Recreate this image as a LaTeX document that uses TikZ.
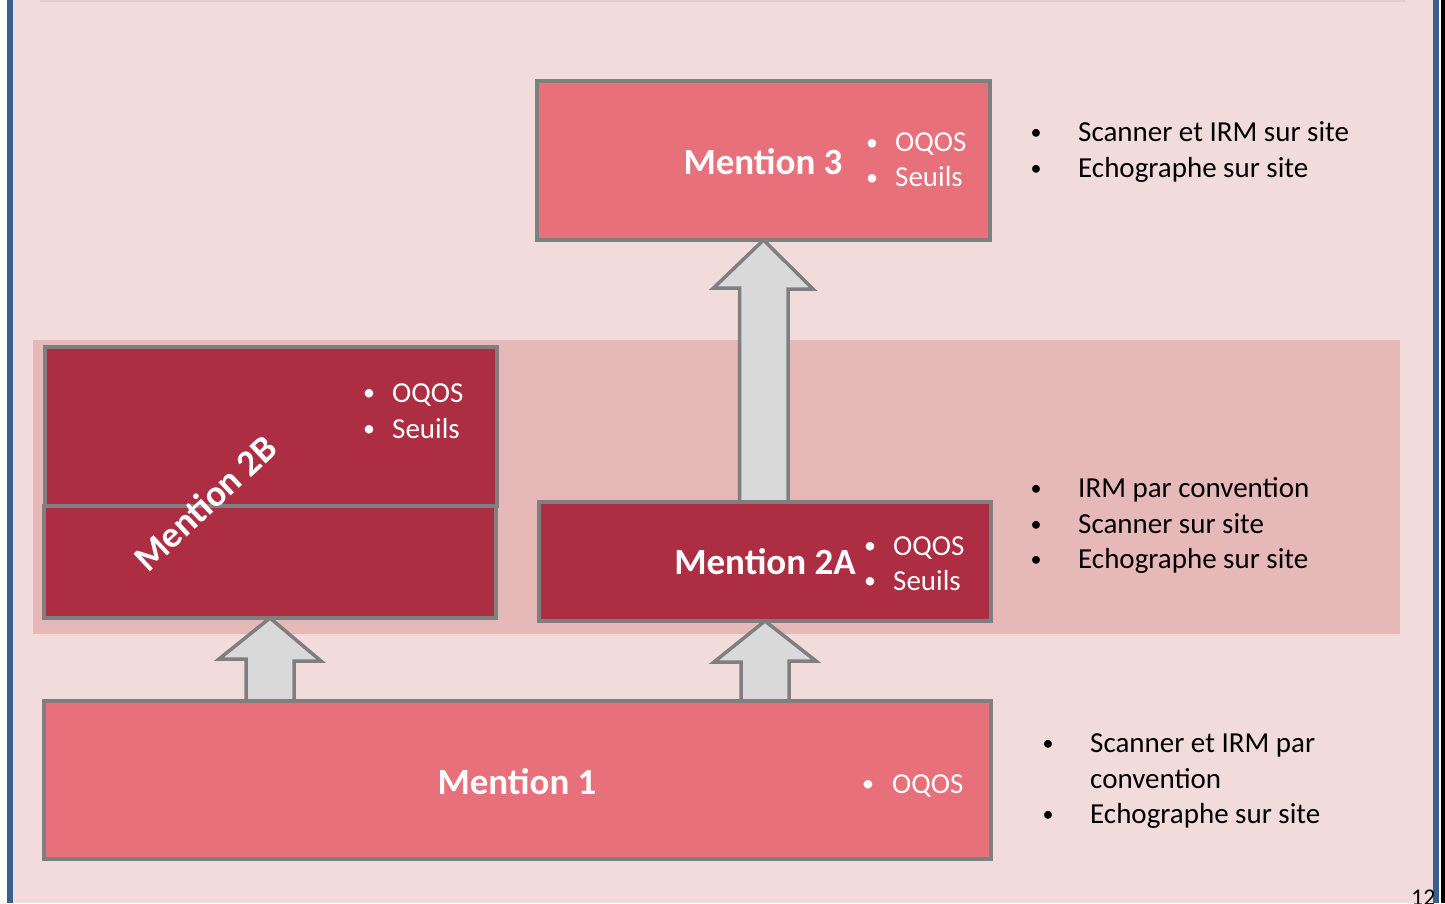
\documentclass[tikz,border=0pt]{standalone}
\usepackage{fontspec}
\setmainfont{Carlito}
\begin{document}
\begin{tikzpicture}[x=1pt,y=-1pt,
  lightbox/.style={draw=boxgray,line width=4pt,fill=lightred,anchor=north west,inner sep=0pt,outer sep=0pt},
  darkbox/.style={draw=boxgray,line width=4pt,fill=darkred,anchor=north west,inner sep=0pt,outer sep=0pt},
  uparrow/.style={draw=boxgray,line width=3.5pt,fill=arrowgray,line join=miter},
  title/.style={font=\fontsize{37}{42}\selectfont\bfseries,text=white,inner sep=0pt},
  intxt/.style={font=\fontsize{29}{34}\selectfont,text=white,anchor=base west,inner sep=0pt},
  indot/.style={font=\fontsize{24}{30}\selectfont,text=white,anchor=base,inner sep=0pt},
  outtxt/.style={font=\fontsize{29}{34}\selectfont,text=black,anchor=base west,inner sep=0pt},
  outdot/.style={font=\fontsize{22}{30}\selectfont,text=black,anchor=base,inner sep=0pt}]
\definecolor{bg}{HTML}{F2DCDB}
\definecolor{band}{HTML}{E6B8B7}
\definecolor{lightred}{HTML}{E7707B}
\definecolor{darkred}{HTML}{AD2D42}
\definecolor{boxgray}{HTML}{7F7F7F}
\definecolor{arrowgray}{HTML}{D9D9D9}
\definecolor{slideblue}{HTML}{3A5F8E}
% frame
\useasboundingbox (0,0) rectangle (1445,903);
\fill[white] (0,0) rectangle (1445,903);
\fill[bg] (13,0) rectangle (1433,903);
\fill[slideblue] (7,0) rectangle (13,903);
\fill[slideblue] (1433,0) rectangle (1439,903);
\fill[black] (1441,0) rectangle (1445,903);
\draw[line width=1.5pt,color=bg!85!gray] (40,0.75) -- (1405,0.75);
% band
\fill[band] (33,340) rectangle (1400,634);
% boxes
\node[lightbox,minimum width=453pt,minimum height=159pt] (m3) at (537,81) {};
\node[darkbox,minimum width=452pt,minimum height=159pt] (m2bt) at (45,347) {};
\node[darkbox,minimum width=452pt,minimum height=112pt] (m2bb) at (44,506) {};
\node[darkbox,minimum width=452pt,minimum height=119pt] (m2a) at (539,502) {};
\node[lightbox,minimum width=947pt,minimum height=158pt] (m1) at (44,701) {};
% arrows
\draw[uparrow] (m3.south) -- ++(-50,48) -- ++(26,0) |- (m2a.north -| 739,0) -- (788,502) |- (813,289) -- cycle;
\draw[uparrow] (m2bb.south -| 270,0) -- ++(-51,41) -- ++(27,0) |- (m1.north -| 246,0) -- (294,701) |- (321,661) -- cycle;
\draw[uparrow] (m2a.south -| 765,0) -- ++(-51,41) -- ++(27,0) |- (m1.north -| 741,0) -- (789,701) |- (816,661) -- cycle;
% redraw box borders on top of arrow tips
\draw[boxgray,line width=4pt] (m3.south west) -- (m3.south east);
\draw[boxgray,line width=4pt] (m2a.north west) -- (m2a.north east);
\draw[boxgray,line width=4pt] (m2a.south west) -- (m2a.south east);
\draw[boxgray,line width=4pt] (m2bb.south west) -- (m2bb.south east);
\draw[boxgray,line width=4pt] (m1.north west) -- (m1.north east);
% Mention 3
\node[title] (t3) at (763,162) {Mention 3};
\node[indot] (d3a) at (872,150) {•};
\node[intxt] (o3a) at (895,151) {OQOS};
\node[indot] (d3b) at (872,185) {•};
\node[intxt] (o3b) at (895,186) {Seuils};
% Mention 2B
\node[title,rotate=43] (t2b) at (205,503) {Mention 2B};
\node[indot] (d2ba) at (369,400) {•};
\node[intxt] (o2ba) at (392,402) {OQOS};
\node[indot] (d2bb) at (369,436) {•};
\node[intxt] (o2bb) at (392,438) {Seuils};
% Mention 2A
\node[title] (t2a) at (765,562) {Mention 2A};
\node[indot] (d2aa) at (870,553) {•};
\node[intxt] (o2aa) at (893,555) {OQOS};
\node[indot] (d2ab) at (870,588) {•};
\node[intxt] (o2ab) at (893,590) {Seuils};
% Mention 1
\node[title] (t1) at (517,782) {Mention 1};
\node[indot] (d1a) at (868,791) {•};
\node[intxt] (o1a) at (892,793) {OQOS};
% right lists
\node[outdot] (r1ad) at (1036,139) {•};
\node[outtxt] (r1a) at (1078,141) {Scanner et IRM sur site};
\node[outdot] (r1bd) at (1036,175) {•};
\node[outtxt] (r1b) at (1078,177) {Echographe sur site};
\node[outdot] (r2ad) at (1036,495) {•};
\node[outtxt] (r2a) at (1078,497) {IRM par convention};
\node[outdot] (r2bd) at (1036,531) {•};
\node[outtxt] (r2b) at (1078,533) {Scanner sur site};
\node[outdot] (r2cd) at (1036,566) {•};
\node[outtxt] (r2c) at (1078,568) {Echographe sur site};
\node[outdot] (r3ad) at (1048,750) {•};
\node[outtxt] (r3a) at (1090,752) {Scanner et IRM par};
\node[outtxt] (r3b) at (1090,788) {convention};
\node[outdot] (r3cd) at (1048,821) {•};
\node[outtxt] (r3c) at (1090,823) {Echographe sur site};
% page number
\begin{scope}
\clip (0,0) rectangle (1433,903);
\node[font=\fontsize{24}{28}\selectfont,anchor=base west,inner sep=0pt] (pg) at (1411,905) {12};
\end{scope}
\end{tikzpicture}
\end{document}
